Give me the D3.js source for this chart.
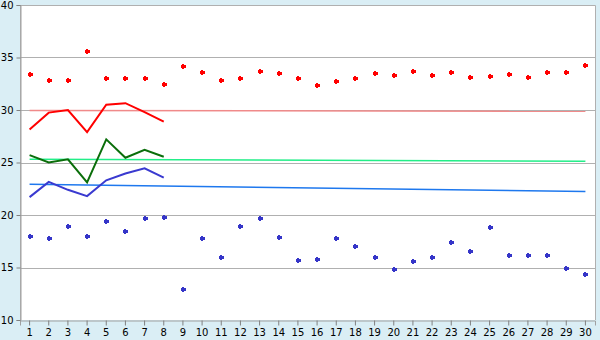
<!DOCTYPE html>
<html><head><meta charset="utf-8">
<script src="https://cdn.jsdelivr.net/npm/d3@7"></script>
<style>html,body{margin:0;padding:0;background:#daeef5;}svg{display:block;}</style>
</head><body>
<svg id="c" width="600" height="340"></svg>
<script>
const days = [1,2,3,4,5,6,7,8,9,10,11,12,13,14,15,16,17,18,19,20,21,22,23,24,25,26,27,28,29,30];
const yTicks = [10,15,20,25,30,35,40];
const redDots = [33.4,32.9,32.9,35.6,33.0,33.0,33.0,32.5,34.2,33.6,32.9,33.0,33.7,33.5,33.0,32.4,32.8,33.0,33.5,33.3,33.7,33.3,33.6,33.1,33.2,33.4,33.1,33.6,33.6,34.3];
const blueDots = [18.0,17.8,19.0,18.0,19.4,18.45,19.7,19.8,13.0,17.8,16.0,19.0,19.7,17.9,15.7,15.8,17.8,17.0,16.0,14.9,15.6,16.0,17.4,16.6,18.9,16.2,16.2,16.2,15.0,14.35];
const redLine = [28.15,29.75,30.0,27.9,30.5,30.65,29.8,28.9];
const greenLine = [25.7,25.0,25.3,23.1,27.2,25.45,26.2,25.55];
const blueLine = [21.7,23.15,22.4,21.8,23.3,23.95,24.45,23.55];
const redTrend = [29.96, 29.88];
const greenTrend = [25.3, 25.12];
const blueTrend = [22.92, 22.24];

const svg = d3.select("#c");
const L = 20, T = 5, R = 595, B = 320;
const x = d3.scaleBand().domain(days).range([L, R]).padding(0);
const cx = d => x(d) + x.bandwidth() / 2;
const y = d3.scaleLinear().domain([10, 40]).range([B, T]);

svg.append("rect").attr("x", L).attr("y", T).attr("width", R - L).attr("height", B - T).attr("fill", "#fff");

// grid
svg.append("g").selectAll("line").data(yTicks.filter(v => v > 10 && v < 40)).join("line")
  .attr("x1", L).attr("x2", R).attr("y1", d => Math.round(y(d)) + 0.5).attr("y2", d => Math.round(y(d)) + 0.5)
  .attr("stroke", "#b0b0b0").attr("stroke-width", 1);
// border
svg.append("path").attr("d", `M${L+0.5},${B}V${T+0.5}H${R+0.5}V${B}`).attr("fill", "none").attr("stroke", "#b0b0b0");

// axes
const yAxis = d3.axisLeft(y).tickValues(yTicks).tickSize(4).tickPadding(3);
const gy = svg.append("g").attr("transform", `translate(${L + 0.5},0)`).call(yAxis);
const xAxis = d3.axisBottom(x).tickSize(5).tickPadding(3);
const gx = svg.append("g").attr("transform", `translate(0,${B + 0.5})`).call(xAxis);
[gy, gx].forEach(g => {
  g.selectAll("path.domain").attr("stroke", "#a0a0a0");
  g.selectAll(".tick line").attr("stroke", "#808080");
  g.selectAll("text").attr("font-family", "DejaVu Sans").attr("font-size", 10).attr("fill", "#000");
});

// trend lines
const trends = [[redTrend, "#f08a8a"], [greenTrend, "#22ee88"], [blueTrend, "#1e78ee"]];
trends.forEach(([t, c]) => {
  svg.append("line").attr("x1", cx(days[0])).attr("x2", cx(days[days.length - 1]))
    .attr("y1", y(t[0])).attr("y2", y(t[1])).attr("stroke", c).attr("stroke-width", 1.5);
});

// lines
const line = d3.line().x((d, i) => cx(days[i])).y(d => y(d));
[[redLine, "#ff0000"], [greenLine, "#0a6e0a"], [blueLine, "#3a3ad0"]].forEach(([s, c]) => {
  svg.append("path").datum(s).attr("d", line).attr("fill", "none").attr("stroke", c).attr("stroke-width", 2);
});

// markers
const plus = "M-1,-2.5h2v1h1.5v3h-1.5v1h-2v-1h-1.5v-3h1.5z";
[[redDots, "#ff0000"], [blueDots, "#3535c8"]].forEach(([s, c]) => {
  svg.append("g").selectAll("path").data(s).join("path")
    .attr("d", plus)
    .attr("transform", (d, i) => `translate(${Math.round(cx(days[i]))},${Math.round(y(d))})`)
    .attr("fill", c).attr("shape-rendering", "crispEdges");
});
</script>
</body></html>
